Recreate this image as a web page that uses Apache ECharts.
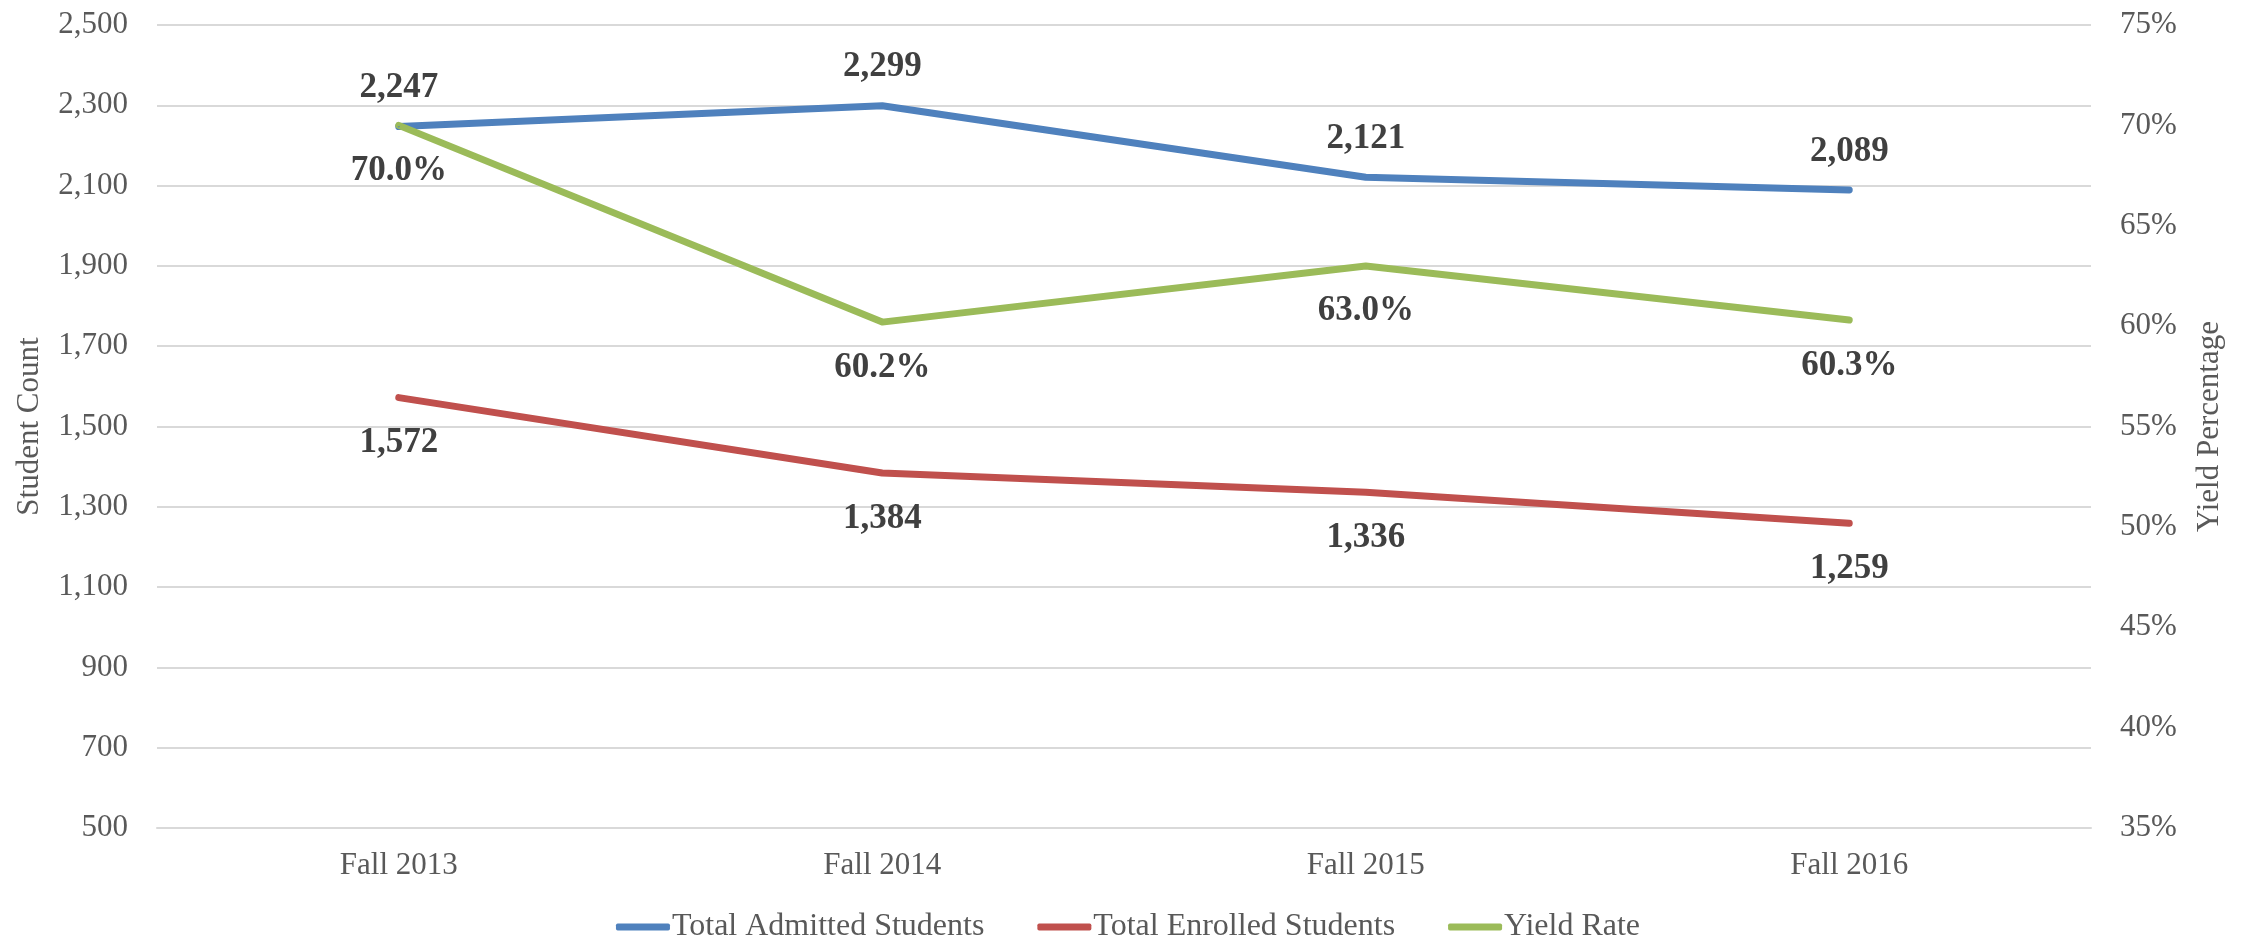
<!DOCTYPE html>
<html>
<head>
<meta charset="utf-8">
<script src="https://cdn.jsdelivr.net/npm/echarts@6/dist/echarts.min.js"></script>
<style>
  html, body { margin: 0; padding: 0; background: #fff; }
  #chart { width: 2256px; height: 944px; }
</style>
</head>
<body>
<div id="chart"></div>
<script>
// categories and values
const terms = ['Fall 2013', 'Fall 2014', 'Fall 2015', 'Fall 2016'];
const admitted = [2247, 2299, 2121, 2089];
const enrolled = [1572, 1384, 1336, 1259];
const yieldRate = [70.0, 60.2, 63.0, 60.3];

const font = '"Liberation Serif", "DejaVu Serif", serif';
const axisGrey = '#595959';
const labelDark = '#404040';

const chart = echarts.init(document.getElementById('chart'));

// comma thousands, like the original
function fmtCount(v) {
  return v.toLocaleString('en-US');
}

function dataLabel(position, distance, formatter) {
  return {
    show: true,
    position: position,
    distance: distance,
    color: labelDark,
    fontFamily: font,
    fontSize: 35,
    fontWeight: 'bold',
    formatter: formatter
  };
}

chart.setOption({
  animation: false,
  backgroundColor: '#fff',
  grid: {
    left: 157,
    right: 165,
    top: 25,
    bottom: 116
  },
  legend: {
    left: 'center',
    top: 906,
    icon: 'roundRect',
    itemWidth: 54,
    itemHeight: 7,
    itemGap: 53,
    textStyle: {
      color: axisGrey,
      fontFamily: font,
      fontSize: 32,
      padding: [0, 0, 0, -3]
    },
    data: ['Total Admitted Students', 'Total Enrolled Students', 'Yield Rate']
  },
  xAxis: {
    type: 'category',
    data: terms,
    boundaryGap: true,
    axisLine: { show: true, lineStyle: { color: '#d9d9d9', width: 2 } },
    axisTick: { show: false },
    axisLabel: {
      color: axisGrey,
      fontFamily: font,
      fontSize: 31,
      margin: 22
    }
  },
  yAxis: [
    {
      type: 'value',
      min: 500,
      max: 2500,
      interval: 200,
      name: 'Student Count',
      nameLocation: 'middle',
      nameRotate: 90,
      nameGap: 112,
      nameTextStyle: { color: axisGrey, fontFamily: font, fontSize: 31 },
      axisLine: { show: false },
      axisTick: { show: false },
      splitLine: { lineStyle: { color: '#d9d9d9', width: 2 } },
      axisLabel: {
        color: axisGrey,
        fontFamily: font,
        fontSize: 31,
        margin: 29,
        formatter: fmtCount
      }
    },
    {
      type: 'value',
      min: 35,
      max: 75,
      interval: 5,
      name: 'Yield Percentage',
      nameLocation: 'middle',
      nameRotate: 90,
      nameGap: 103,
      nameTextStyle: { color: axisGrey, fontFamily: font, fontSize: 31 },
      axisLine: { show: false },
      axisTick: { show: false },
      splitLine: { show: false },
      axisLabel: {
        color: axisGrey,
        fontFamily: font,
        fontSize: 31,
        margin: 29,
        formatter: '{value}%'
      }
    }
  ],
  series: [
    {
      name: 'Total Admitted Students',
      type: 'line',
      data: admitted,
      yAxisIndex: 0,
      symbol: 'circle',
      symbolSize: 2,
      color: '#4f81bd',
      lineStyle: { width: 7, cap: 'round', join: 'round' },
      label: dataLabel('top', 20, p => fmtCount(p.value))
    },
    {
      name: 'Total Enrolled Students',
      type: 'line',
      data: enrolled,
      yAxisIndex: 0,
      symbol: 'circle',
      symbolSize: 2,
      color: '#c0504d',
      lineStyle: { width: 7, cap: 'round', join: 'round' },
      label: dataLabel('bottom', 27, p => fmtCount(p.value))
    },
    {
      name: 'Yield Rate',
      type: 'line',
      data: yieldRate,
      yAxisIndex: 1,
      symbol: 'circle',
      symbolSize: 2,
      color: '#9bbb59',
      lineStyle: { width: 7, cap: 'round', join: 'round' },
      label: dataLabel('bottom', 27, p => p.value.toFixed(1) + '%')
    }
  ]
});
</script>
</body>
</html>
